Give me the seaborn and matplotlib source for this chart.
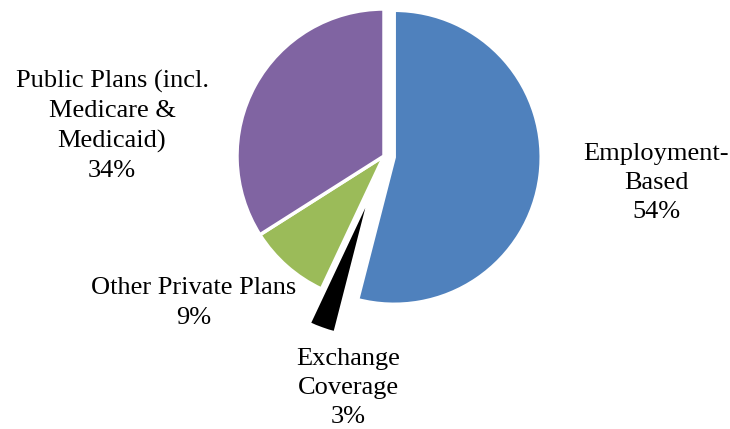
import matplotlib
matplotlib.use("Agg")
import matplotlib.pyplot as plt
import seaborn as sns

categories = ["Employment-\nBased", "Exchange\nCoverage", "Other Private Plans", "Public Plans (incl.\nMedicare &\nMedicaid)"]
values = [54, 3, 9, 34]
colors = ["#4F81BD", "#000000", "#9BBB59", "#8064A2"]
explode = [0.07, 0.25, 0.0, 0.0]
# label centers in figure pixels (x, y from top)
label_pos = [(656, 183), (348, 388), (194, 303), (112, 126)]

sns.set_theme(style="white")
plt.rcParams["font.family"] = ["Liberation Serif", "DejaVu Serif"]

W, H = 730, 429
fig = plt.figure(figsize=(W / 100, H / 100), dpi=100)
cx, cy, R = 384, 156, 147
half = 220
ax = fig.add_axes([(cx - half) / W, (H - cy - half) / H, 2 * half / W, 2 * half / H])
ax.pie(values, colors=colors, explode=explode, startangle=90, counterclock=False,
       radius=1.0, wedgeprops=dict(edgecolor="white", linewidth=2.5))
ax.set_xlim(-half / R, half / R)
ax.set_ylim(-half / R, half / R)
ax.set_aspect("equal")
ax.axis("off")

for cat, v, (x, y) in zip(categories, values, label_pos):
    fig.text(x / W, 1 - y / H, f"{cat}\n{v}%", ha="center", va="center",
             fontsize=19, linespacing=1.43, color="black")

fig.savefig("out.png", dpi=100, facecolor="white")
